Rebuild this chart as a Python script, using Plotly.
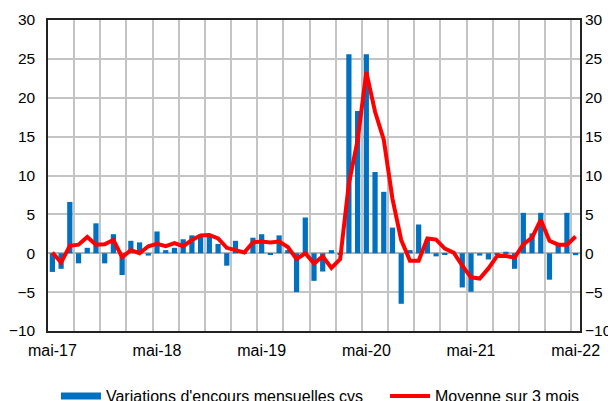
import plotly.graph_objects as go

# Monthly data, May 2017 .. May 2022 (61 months)
bar_values = [-2.4, -2.0, 6.6, -1.3, 0.7, 3.85, -1.3, 2.45, -2.8, 1.6,
              1.4, -0.3, 2.8, 0.4, 0.7, 1.8, 2.3, 2.4, 2.3, 1.2,
              -1.6, 1.6, 0.2, 2.0, 2.45, -0.1, 2.3, 0.4, -5.0, 4.6,
              -3.55, -2.35, 0.4, -0.2, 25.6, 18.3, 25.6, 10.45, 7.9, 3.3,
              -6.5, 0.4, 3.7, 1.8, -0.4, -0.2, 0.2, -4.4, -4.95, -0.3,
              -0.8, -0.1, 0.2, -2.0, 5.2, 2.55, 5.2, -3.4, 1.1, 5.2,
              -0.25]
line_values = [0.1, -1.2, 0.95, 1.1, 2.1, 1.1, 1.15, 1.7, -0.5, 0.4,
               0.0, 0.9, 1.2, 0.9, 1.3, 0.9, 1.7, 2.3, 2.35, 1.9,
               0.7, 0.45, 0.1, 1.4, 1.5, 1.4, 1.5, 0.8, -0.75, 0.0,
               -1.3, -0.4, -1.9, -0.75, 9.0, 14.5, 23.3, 18.2, 14.6, 7.0,
               1.7, -0.95, -0.95, 1.9, 1.75, 0.6, 0.1, -1.6, -3.1, -3.25,
               -1.95, -0.35, -0.35, -0.55, 1.15, 2.0, 4.3, 1.6, 1.1, 1.1,
               2.15]
month_index = list(range(len(bar_values)))
tick_positions = [0, 12, 24, 36, 48, 60]
tick_labels = ["mai-17", "mai-18", "mai-19", "mai-20", "mai-21", "mai-22"]
y_ticks = [-10, -5, 0, 5, 10, 15, 20, 25, 30]

BLUE = "#0070c0"
RED = "#ff0000"
GRID = "#c4c4c4"
FONT = "Liberation Sans, Arial, sans-serif"

grid_vals = [2.5 + 3 * k for k in range(20)]

fig = go.Figure()
fig.add_trace(go.Bar(x=month_index, y=bar_values, marker=dict(color=BLUE, line=dict(width=0)),
                     showlegend=False, xaxis="x", yaxis="y"))
fig.add_trace(go.Scatter(x=month_index, y=line_values, mode="lines",
                         line=dict(color=RED, width=4), showlegend=False, xaxis="x", yaxis="y2"))
# legend entries
fig.add_trace(go.Scatter(x=[None], y=[None], mode="lines", line=dict(color=BLUE, width=7),
                         name="Variations d'encours mensuelles cvs", legend="legend"))
fig.add_trace(go.Scatter(x=[None], y=[None], mode="lines", line=dict(color=RED, width=4),
                         name="Moyenne sur 3 mois", legend="legend2"))
# hidden trace so the grid axis is rendered
fig.add_trace(go.Scatter(x=[None], y=[None], xaxis="x2", yaxis="y", showlegend=False, hoverinfo="skip"))

legend_style = dict(orientation="h", xanchor="left", yref="container", y=0.0127, yanchor="middle",
                    font=dict(size=16), itemwidth=40, bgcolor="rgba(0,0,0,0)")

# the page body adds an 8px offset; the figure is sized to fill the rest of the 616x401 window
fig.update_layout(
    width=608, height=393,
    margin=dict(l=40, r=36, t=12, b=70, autoexpand=False),
    paper_bgcolor="white", plot_bgcolor="white",
    font=dict(family=FONT, size=16, color="black"),
    bargap=0.4,
    xaxis=dict(range=[-0.5, 60.5], tickmode="array", tickvals=tick_positions, ticktext=tick_labels,
               showgrid=False, zeroline=False, showline=True, mirror=True, linecolor="#222",
               linewidth=1.5, ticks="", tickfont=dict(size=16), ticklabelstandoff=4),
    xaxis2=dict(range=[-0.5, 60.5], overlaying="x", matches="x", tickmode="array", tickvals=grid_vals,
                showticklabels=False, showgrid=True, gridcolor=GRID, gridwidth=1.5,
                zeroline=False, showline=False, ticks=""),
    yaxis=dict(range=[-10, 30], tickmode="array", tickvals=y_ticks, showgrid=True,
               gridcolor=GRID, gridwidth=1.5, zeroline=True, zerolinecolor="#b4b4b4", zerolinewidth=1.5,
               showline=True, mirror=True, linecolor="#222", linewidth=1.5, ticks="",
               tickfont=dict(size=15.5), ticklabelstandoff=8),
    yaxis2=dict(range=[-10, 30], tickmode="array", tickvals=y_ticks, overlaying="y", side="right",
                showgrid=False, zeroline=False, showline=False, ticks="",
                tickfont=dict(size=15.5), ticklabelstandoff=4),
    legend=dict(x=0.015, **legend_style),
    legend2=dict(x=0.6335, **legend_style),
)

fig.write_html("out.html")
